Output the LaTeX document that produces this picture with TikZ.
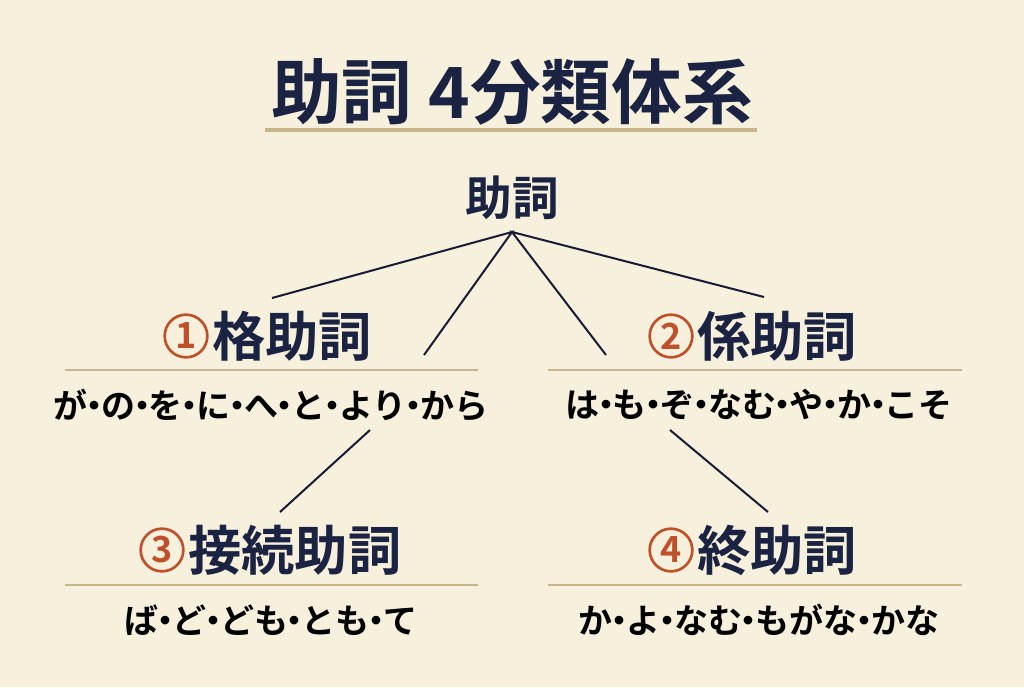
\documentclass[tikz,border=0pt]{standalone}
\usepackage{fontspec}
\newfontfamily\cjk{Noto Sans CJK JP Bold}
\definecolor{bg}{HTML}{F7F0DC}
\definecolor{navy}{HTML}{1B2342}
\definecolor{tan}{HTML}{C9B58C}
\definecolor{rust}{HTML}{C0502A}
\newcommand{\dt}{\kern-0.3em・\kern-0.3em}
\begin{document}
\begin{tikzpicture}[x=0.75pt,y=-0.75pt,
  head/.style={font=\cjk\fontsize{40}{44}\selectfont,text=navy,inner sep=0},
  lst/.style={font=\cjk\fontsize{25.5}{28}\selectfont,text=black,inner sep=0},
  num/.style={circle,draw=rust,line width=2pt,text=rust,font=\cjk\fontsize{27}{29}\selectfont,inner sep=0,minimum size=32pt},
  uline/.style={draw=tan,line width=1.6pt},
  conn/.style={draw=navy!80!black,line width=1.5pt}]
\fill[bg] (0,0) rectangle (1024,687);
\useasboundingbox (0,0) rectangle (1024,687);
\node[font=\cjk\fontsize{53}{58}\selectfont,text=navy,inner sep=0] (title) at (512,92) {助詞 4分類体系};
\draw[tan,line width=3pt] (265,130) -- (757,130);
\node[font=\cjk\fontsize{35}{38}\selectfont,text=navy,inner sep=0] (root) at (512,198) {助詞};
\coordinate (r) at (512,232);
\coordinate (a1) at (272,298); \coordinate (a2) at (424,355);
\coordinate (b1) at (606,355); \coordinate (b2) at (764,297);
\draw[conn] (a1) -- (r) -- (a2); \draw[conn] (b1) -- (r) -- (b2);
% group 1
\node[num] (n1) at (186,336) {1};
\node[head,anchor=west] (h1) at (212,336) {格助詞};
\draw[uline] (65,370) -- (478,370);
\node[lst] (l1) at (271,405) {が\dt の\dt を\dt に\dt へ\dt と\dt より\dt から};
% group 2
\node[num] (n2) at (671,336) {2};
\node[head,anchor=west] (h2) at (697,336) {係助詞};
\draw[uline] (548,370) -- (962,370);
\node[lst] (l2) at (759,405) {は\dt も\dt ぞ\dt なむ\dt や\dt か\dt こそ};
\coordinate (c1) at (370,430); \coordinate (c2) at (280,512);
\coordinate (d1) at (670,430); \coordinate (d2) at (768,512);
\draw[conn] (c1) -- (c2); \draw[conn] (d1) -- (d2);
% group 3
\node[num] (n3) at (162,550) {3};
\node[head,anchor=west] (h3) at (188,550) {接続助詞};
\draw[uline] (65,585) -- (478,585);
\node[lst] (l3) at (271,620) {ば\dt ど\dt ども\dt とも\dt て};
% group 4
\node[num] (n4) at (671,550) {4};
\node[head,anchor=west] (h4) at (697,550) {終助詞};
\draw[uline] (548,585) -- (962,585);
\node[lst] (l4) at (759,620) {か\dt よ\dt なむ\dt もがな\dt かな};
\end{tikzpicture}
\end{document}
